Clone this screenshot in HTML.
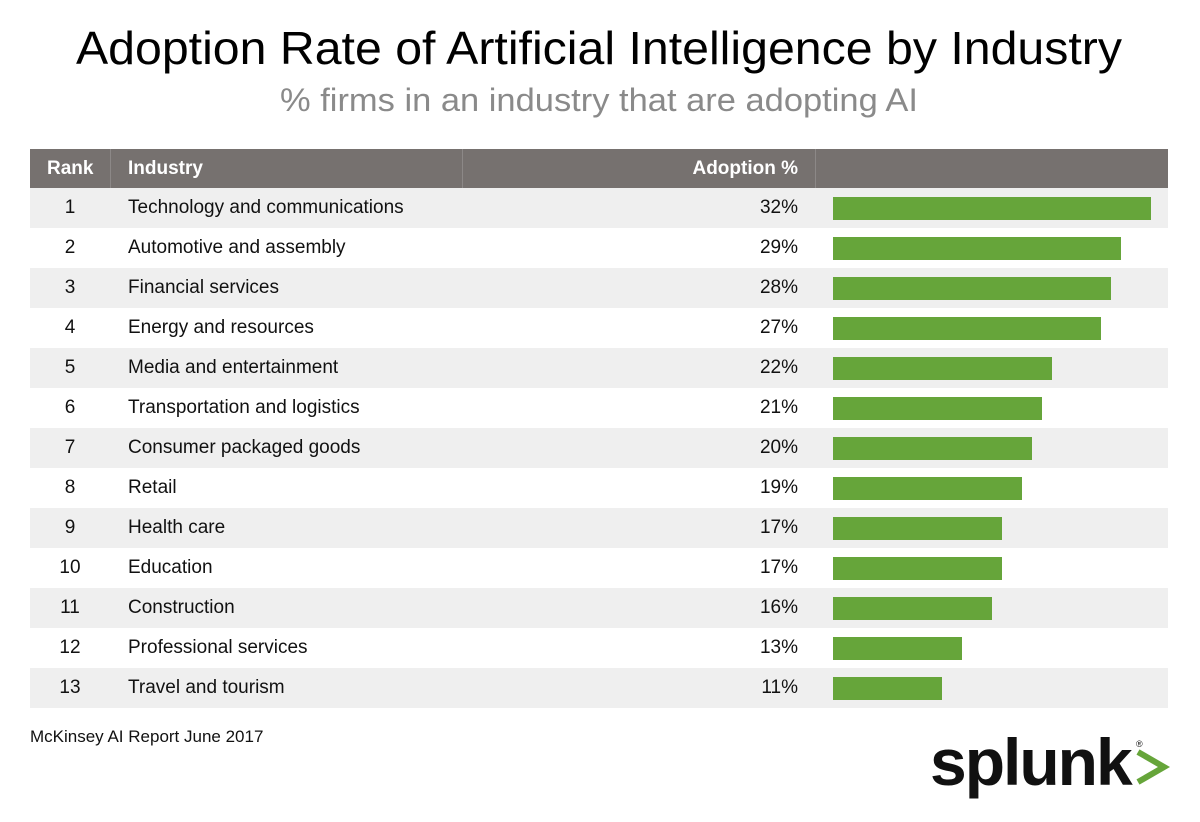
<!DOCTYPE html>
<html><head><meta charset="utf-8"><style>
body{margin:0;width:1200px;height:822px;background:#fff;font-family:"Liberation Sans",sans-serif;overflow:hidden;position:relative}
.a{position:absolute}
.row{position:absolute;left:30px;width:1138px;height:40px}
.t{position:absolute;font-size:19px;color:#111;line-height:40px;white-space:nowrap}
.hd{position:absolute;font-size:19px;color:#fff;font-weight:bold;line-height:39px;top:149px}
.bar{position:absolute;height:23px;background:#66a53a}
</style></head><body>
<svg class="a" style="left:0;top:0" width="1200" height="140">
<text x="76" y="64" font-size="46" textLength="1046" lengthAdjust="spacingAndGlyphs" fill="#000" font-family="Liberation Sans">Adoption Rate of Artificial Intelligence by Industry</text>
<text x="280" y="111" font-size="32" textLength="638" lengthAdjust="spacingAndGlyphs" fill="#8a8a8a" font-family="Liberation Sans">% firms in an industry that are adopting AI</text>
</svg>
<div class="a" style="left:30px;top:149px;width:1138px;height:39px;background:#76716f"></div>
<div class="a" style="left:110px;top:149px;width:1px;height:39px;background:#8c8887"></div>
<div class="a" style="left:462px;top:149px;width:1px;height:39px;background:#8c8887"></div>
<div class="a" style="left:815px;top:149px;width:1px;height:39px;background:#8c8887"></div>
<div class="hd" style="left:47px">Rank</div>
<div class="hd" style="left:128px">Industry</div>
<div class="hd" style="right:402px">Adoption %</div>
<div id="rows"></div>
<div class="a" style="left:30px;top:727px;font-size:17px;color:#111">McKinsey AI Report June 2017</div>
<div class="a" style="left:930px;top:722px;font-size:66px;font-weight:bold;color:#111;letter-spacing:-2px;line-height:80px">splunk</div>
<svg class="a" style="left:1134px;top:738px" width="40" height="50">
<text x="2" y="9" font-size="9" fill="#111">®</text>
<polyline points="4,14 30,29 4,44" fill="none" stroke="#66a53a" stroke-width="6"/>
</svg>
<script>
const ranks=[1,2,3,4,5,6,7,8,9,10,11,12,13];
const industries=["Technology and communications","Automotive and assembly","Financial services","Energy and resources","Media and entertainment","Transportation and logistics","Consumer packaged goods","Retail","Health care","Education","Construction","Professional services","Travel and tourism"];
const values=[32,29,28,27,22,21,20,19,17,17,16,13,11];
const x=v=>v*9.94;
const root=document.getElementById('rows');
industries.forEach((name,i)=>{
  const top=188+i*40;
  const r=document.createElement('div');r.className='row';
  
  
  r.style.top=top+'px';r.style.background=i%2===0?'#efefef':'#fff';
  const rk=document.createElement('div');rk.className='t';
  
  
  rk.style.left='0';rk.style.width='80px';rk.style.textAlign='center';rk.textContent=ranks[i];
  const nm=document.createElement('div');nm.className='t';
  
  
  nm.style.left='98px';nm.textContent=name;
  const pc=document.createElement('div');pc.className='t';
  
  
  pc.style.right='370px';pc.textContent=values[i]+'%';
  const b=document.createElement('div');b.className='bar';
  
  
  b.style.left='803px';b.style.top='9px';b.style.width=x(values[i])+'px';
  r.append(rk,nm,pc,b);root.appendChild(r);
});
</script>
</body></html>
